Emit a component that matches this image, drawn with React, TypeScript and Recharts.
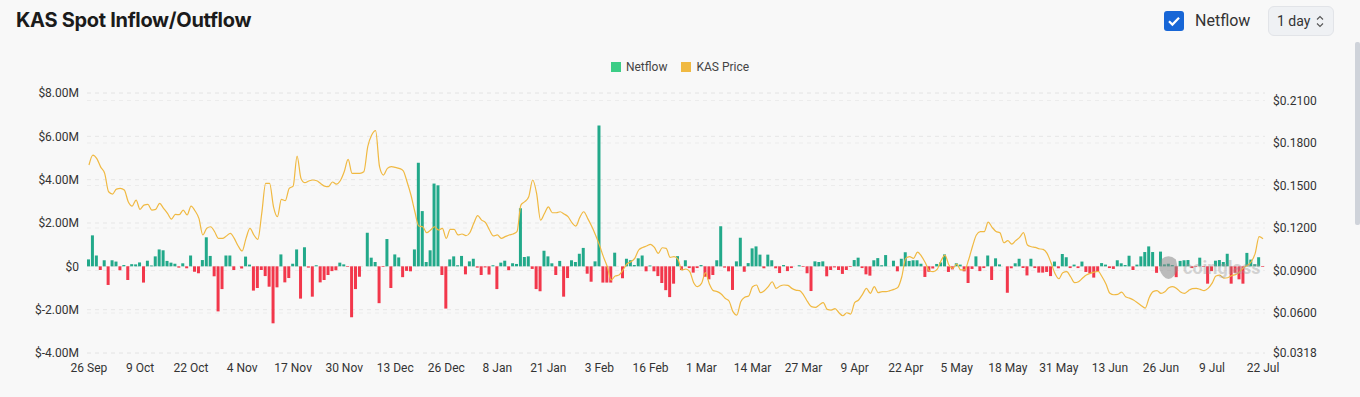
import React from 'react';
import {
  ComposedChart,
  Bar,
  Line,
  XAxis,
  YAxis,
  CartesianGrid,
  Cell,
  Legend,
} from 'recharts';

// Netflow in millions of USD, one value per day from 26 Sep 2024 to 22 Jul 2025
const netflowM: number[] = [
  0.32, 1.43, 0.5, -0.17, 0.28, -0.86, 0.28, 0.22, -0.18, 0.06,
  -0.63, 0.1, 0.09, 0.18, -0.75, 0.26, 0.04, 0.46, 0.78, 0.74,
  0.25, 0.17, 0.12, -0.06, 0.14, -0.09, 0.5, -0.25, -0.32, 0.29,
  1.34, 0.48, -0.46, -2.08, -1.05, 0.5, 0.5, -0.17, 0, -0.1,
  0.45, 0.08, -1.12, -1.0, -0.17, -0.45, -0.94, -2.63, -0.97, 0.55,
  -0.74, -0.54, 0.12, 0.78, -1.49, 0.88, -0.06, -1.4, 0.05, -0.74,
  -0.63, -0.4, -0.22, -0.18, 0.17, 0.09, -0.03, -2.35, -1.05, -0.48,
  0, 1.55, 0.4, 0.2, -1.7, -0.03, 1.26, -1.0, 0.55, 0.41,
  -0.5, -0.21, -0.23, 0.78, 4.78, 2.55, 0.2, 0.74, 3.82, 3.74,
  -0.4, -1.95, 0.32, 0.46, 0.05, 0.48, -0.37, 0.23, 0.35, -0.06,
  -0.4, -0.05, -0.38, 0.05, -1.05, 0.17, 0.26, -0.18, 0.14, 0.11,
  2.68, 0.43, 0.46, -0.12, -1.05, -1.15, 0.72, 0.46, 0.14, -0.4,
  0.25, -1.4, -0.54, 0.28, 0.2, 0.58, 0.85, -0.34, -0.71, 0.23,
  6.5, -0.75, -0.75, -0.75, 0.63, 0, -0.55, 0.35, 0.28, 0.06,
  0.37, 0.5, -0.23, 0.04, -0.23, -0.45, -0.77, -1.1, -1.42, -0.8,
  0.47, -0.17, 0.28, -0.08, -0.29, -0.08, 0.06, -0.48, -0.6, -0.4,
  0.28, 1.85, -0.06, -0.23, -1.09, 0.23, 1.32, -0.25, 0.15, 0.83,
  0.92, 0.54, -0.09, 0.54, 0.28, -0.09, -0.31, 0.06, -0.22, -0.08,
  0, 0.05, -0.03, -0.32, -1.14, 0.23, 0.2, 0.23, -0.46, -0.17,
  -0.05, -0.17, -0.35, -0.17, -0.03, 0.29, 0.4, -0.08, -0.37, -0.43,
  0.28, 0.38, 0.05, 0.52, 0, 0.26, -0.23, 0.35, 0.65, 0.25,
  0.28, 0.28, 0.12, -0.49, -0.25, -0.1, 0.11, 0.18, 0.55, -0.26,
  -0.14, 0.14, 0.08, -0.23, -0.77, -0.12, 0.46, -0.22, -0.08, 0.5,
  -0.63, 0.37, 0.09, 0, -1.22, -0.09, 0.14, 0.35, -0.08, -0.42,
  0.35, -0.08, -0.29, -0.29, -0.26, -0.45, 0.22, -0.09, 0.57, 0.42,
  -0.08, 0.08, -0.08, 0.22, -0.26, -0.32, -0.52, -0.26, 0.15, 0.08,
  -0.08, -0.12, 0.28, 0.14, 0.06, 0.49, -0.17, 0.08, 0.46, 0.66,
  0.92, 0.66, -0.3, 0.68, 0.09, 0.12, 0.06, -0.5, 0.25, 0.28,
  0.29, -0.08, -0.03, 0.4, -0.03, -0.8, -0.22, 0.26, 0.29, 0.2,
  0.58, -0.8, -0.3, -0.6, -0.8, 0.62, 0.31, 0.1, 0.42, -0.03,
];

// KAS price in USD, one value per day
const kasPrice: number[] = [
  0.1645, 0.1715, 0.169, 0.163, 0.1586, 0.1456, 0.144, 0.1475, 0.148, 0.1468,
  0.1386, 0.1355, 0.1397, 0.1332, 0.1362, 0.1367, 0.1327, 0.1332, 0.1374, 0.1339,
  0.1303, 0.1263, 0.1296, 0.1294, 0.1327, 0.1292, 0.1355, 0.1322, 0.1268, 0.1151,
  0.1198, 0.1209, 0.1174, 0.1127, 0.1127, 0.1144, 0.1162, 0.1127, 0.1073, 0.1038,
  0.1127, 0.1198, 0.1151, 0.112, 0.1303, 0.1515, 0.1515, 0.135, 0.128, 0.1402,
  0.1393, 0.148, 0.1496, 0.1708, 0.155, 0.152, 0.1532, 0.1539, 0.1534, 0.1515,
  0.1496, 0.1492, 0.1525, 0.151, 0.1534, 0.1597, 0.1684, 0.1586, 0.1586, 0.1586,
  0.1597, 0.1774, 0.1856, 0.1887, 0.1633, 0.1574, 0.1621, 0.1633, 0.1628, 0.1621,
  0.1605, 0.1527, 0.1433, 0.1315, 0.1214, 0.1209, 0.1167, 0.1186, 0.1209, 0.1186,
  0.1198, 0.1127, 0.119, 0.119, 0.1151, 0.1158, 0.1146, 0.1167, 0.1233, 0.1287,
  0.1256, 0.1238, 0.1186, 0.1144, 0.1151, 0.1127, 0.1139, 0.1151, 0.1158, 0.1174,
  0.1362, 0.1386, 0.1421, 0.1539, 0.1445, 0.1256, 0.1303, 0.135, 0.1308, 0.1308,
  0.1315, 0.1299, 0.128, 0.1238, 0.1214, 0.1275, 0.1315, 0.1268, 0.1214, 0.1151,
  0.108, 0.0998, 0.0927, 0.0833, 0.0861, 0.0868, 0.0904, 0.0946, 0.0962, 0.0986,
  0.1045, 0.1063, 0.1073, 0.1085, 0.1063, 0.1021, 0.1061, 0.1056, 0.0993, 0.0998,
  0.0979, 0.0903, 0.0911, 0.0892, 0.0814, 0.0786, 0.0809, 0.0885, 0.0805, 0.0758,
  0.0751, 0.0734, 0.0704, 0.0685, 0.061, 0.0586, 0.068, 0.0711, 0.072, 0.0786,
  0.0798, 0.0744, 0.0758, 0.0786, 0.0821, 0.0774, 0.0791, 0.0798, 0.0795, 0.0774,
  0.0762, 0.0758, 0.0727, 0.068, 0.0645, 0.064, 0.0657, 0.0673, 0.0626, 0.0621,
  0.0631, 0.0602, 0.0581, 0.0602, 0.0593, 0.0673, 0.0692, 0.0732, 0.0774, 0.0739,
  0.0786, 0.0744, 0.0751, 0.0751, 0.0758, 0.0767, 0.0781, 0.0856, 0.0986, 0.0998,
  0.0986, 0.103, 0.1002, 0.0955, 0.0899, 0.0892, 0.0908, 0.0969, 0.1009, 0.0939,
  0.0915, 0.0946, 0.0904, 0.0904, 0.0974, 0.107, 0.1151, 0.1174, 0.1174, 0.1242,
  0.1205, 0.1176, 0.1167, 0.1096, 0.1111, 0.1087, 0.1111, 0.1134, 0.1167, 0.108,
  0.1068, 0.1063, 0.1054, 0.1049, 0.1021, 0.0955, 0.088, 0.0842, 0.0885, 0.0892,
  0.0856, 0.0814, 0.0821, 0.0845, 0.0868, 0.088, 0.0889, 0.0894, 0.0856, 0.0805,
  0.0739, 0.0729, 0.0732, 0.0748, 0.0715, 0.0705, 0.0692, 0.0673, 0.0652, 0.0635,
  0.0708, 0.0751, 0.0758, 0.0739, 0.0751, 0.0779, 0.0786, 0.0774, 0.0748, 0.0739,
  0.0758, 0.0772, 0.0774, 0.0767, 0.0758, 0.0774, 0.0809, 0.0861, 0.0868, 0.0847,
  0.0849, 0.0864, 0.0871, 0.0889, 0.092, 0.0936, 0.0962, 0.1021, 0.1139, 0.1125,
];

const monthNames = ['Jan', 'Feb', 'Mar', 'Apr', 'May', 'Jun', 'Jul', 'Aug', 'Sep', 'Oct', 'Nov', 'Dec'];
const startDate = new Date(2024, 8, 26);
const dayLabels: string[] = netflowM.map((_, i) => {
  const d = new Date(startDate.getFullYear(), startDate.getMonth(), startDate.getDate() + i);
  return `${d.getDate()} ${monthNames[d.getMonth()]}`;
});

const leftTicks = [-4, -2, 0, 2, 4, 6, 8];
const rightTicks = [0.0318, 0.06, 0.09, 0.12, 0.15, 0.18, 0.21];

const GREEN = '#22a98a';
const RED = '#f2374b';
const GOLD = '#f0b942';

const data = dayLabels.map((date, i) => ({
  date,
  netflow: netflowM[i],
  price: kasPrice[i],
}));

const fmtLeft = (v: number) => (v === 0 ? '$0' : `$${v.toFixed(2)}M`);
const fmtRight = (v: number) => `$${v.toFixed(4)}`;

const tickStyle = { fontSize: 12, fill: '#333', fontFamily: 'Roboto, sans-serif' };

const LegendContent = () => (
  <div
    style={{
      display: 'flex',
      justifyContent: 'center',
      alignItems: 'center',
      fontFamily: 'Roboto, sans-serif',
      fontSize: 12,
      color: '#444',
      width: '100%',
    }}
  >
    <span style={{ display: 'inline-flex', alignItems: 'center', marginRight: 14 }}>
      <span style={{ width: 10, height: 10, background: '#3ccd86', marginRight: 5, display: 'inline-block' }} />
      Netflow
    </span>
    <span style={{ display: 'inline-flex', alignItems: 'center' }}>
      <span style={{ width: 10, height: 10, background: GOLD, marginRight: 5, display: 'inline-block' }} />
      KAS Price
    </span>
  </div>
);

export default function App() {
  return (
    <div
      style={{
        position: 'fixed',
        left: 0,
        top: 0,
        width: 1360,
        height: 397,
        background: '#f8f8f8',
        overflow: 'hidden',
        fontFamily: 'Roboto, sans-serif',
      }}
    >
      <div
        style={{
          position: 'absolute',
          left: 16,
          top: 8,
          fontFamily: 'Inter, sans-serif',
          fontWeight: 700,
          fontSize: 20,
          color: '#1b1b1b',
          letterSpacing: -0.3,
        }}
      >
        KAS Spot Inflow/Outflow
      </div>
      {/* checkbox */}
      <div
        style={{
          position: 'absolute',
          left: 1164,
          top: 11,
          width: 20,
          height: 20,
          borderRadius: 3,
          background: '#1766d6',
        }}
      >
        <svg width="20" height="20" viewBox="0 0 20 20">
          <path d="M5 10.3 L8.4 13.6 L15 6.8" stroke="#fff" strokeWidth="2.2" fill="none" />
        </svg>
      </div>
      <div style={{ position: 'absolute', left: 1195, top: 11, fontSize: 16, color: '#333', lineHeight: '20px' }}>
        Netflow
      </div>
      <div
        style={{
          position: 'absolute',
          left: 1268,
          top: 6,
          width: 66,
          height: 30,
          boxSizing: 'border-box',
          border: '1px solid #e2e4e8',
          borderRadius: 6,
          background: '#eff1f4',
          fontSize: 14,
          color: '#333',
        }}
      >
        <span style={{ position: 'absolute', left: 8, top: 6, lineHeight: '16px' }}>1 day</span>
        <svg style={{ position: 'absolute', left: 47, top: 8 }} width="8" height="13" viewBox="0 0 8 13">
          <path d="M1 4.5 L4 1.5 L7 4.5 M1 8.5 L4 11.5 L7 8.5" stroke="#555" strokeWidth="1.1" fill="none" />
        </svg>
      </div>
      {/* scrollbar */}
      <div
        style={{
          position: 'absolute',
          left: 1355,
          top: 42,
          width: 5,
          height: 183,
          background: '#cfd3da',
          borderRadius: 2,
        }}
      />
      <div style={{ position: 'absolute', left: 0, top: 0 }}>
        <ComposedChart
          width={1360}
          height={397}
          data={data}
          margin={{ top: 93, right: 5, left: 7, bottom: 14 }}
          barCategoryGap={0}
        >
          <CartesianGrid
            yAxisId="left"
            vertical={false}
            stroke="#e6e6e6"
            strokeDasharray="4 4"
          />
          <CartesianGrid
            yAxisId="right"
            vertical={false}
            stroke="#ececec"
            strokeDasharray="4 4"
          />
          <XAxis
            dataKey="date"
            interval={12}
            axisLine={false}
            tickLine={false}
            tick={tickStyle}
            tickMargin={4}
            height={30}
          />
          <YAxis
            yAxisId="left"
            domain={[-4, 8]}
            ticks={leftTicks}
            tickFormatter={fmtLeft}
            axisLine={false}
            tickLine={false}
            tick={tickStyle}
            width={80}
            allowDataOverflow
          />
          <YAxis
            yAxisId="right"
            orientation="right"
            domain={[0.0318, 0.2153]}
            ticks={rightTicks}
            tickFormatter={fmtRight}
            axisLine={false}
            tickLine={false}
            tick={{ ...tickStyle, textAnchor: 'start' }}
            width={90}
            allowDataOverflow
          />
          <Legend
            verticalAlign="middle"
            align="center"
            layout="horizontal"
            wrapperStyle={{ top: 60, left: 0, width: 1360 }}
            content={<LegendContent />}
          />
          <Bar yAxisId="left" dataKey="netflow" barSize={3} isAnimationActive={false}>
            {data.map((d, i) => (
              <Cell key={i} fill={d.netflow >= 0 ? GREEN : RED} />
            ))}
          </Bar>
          <Line
            yAxisId="right"
            type="monotone"
            dataKey="price"
            stroke={GOLD}
            strokeWidth={1.2}
            dot={false}
            activeDot={false}
            isAnimationActive={false}
          />
        </ComposedChart>
      </div>
      {/* watermark */}
      <div
        style={{
          position: 'absolute',
          left: 1157,
          top: 254,
          display: 'flex',
          alignItems: 'center',
          pointerEvents: 'none',
        }}
      >
        <svg width="23" height="26" viewBox="0 0 24 28" style={{ opacity: 0.55 }}>
          <path d="M4 6 Q12 -1 20 6 L22 16 Q18 27 12 27 Q6 27 2 16 Z" fill="#8a8a8a" />
        </svg>
        <span
          style={{
            fontSize: 18,
            fontWeight: 700,
            color: '#9a9a9a',
            opacity: 0.4,
            marginLeft: 3,
            fontFamily: 'Roboto, sans-serif',
          }}
        >
          coinglass
        </span>
      </div>
    </div>
  );
}
